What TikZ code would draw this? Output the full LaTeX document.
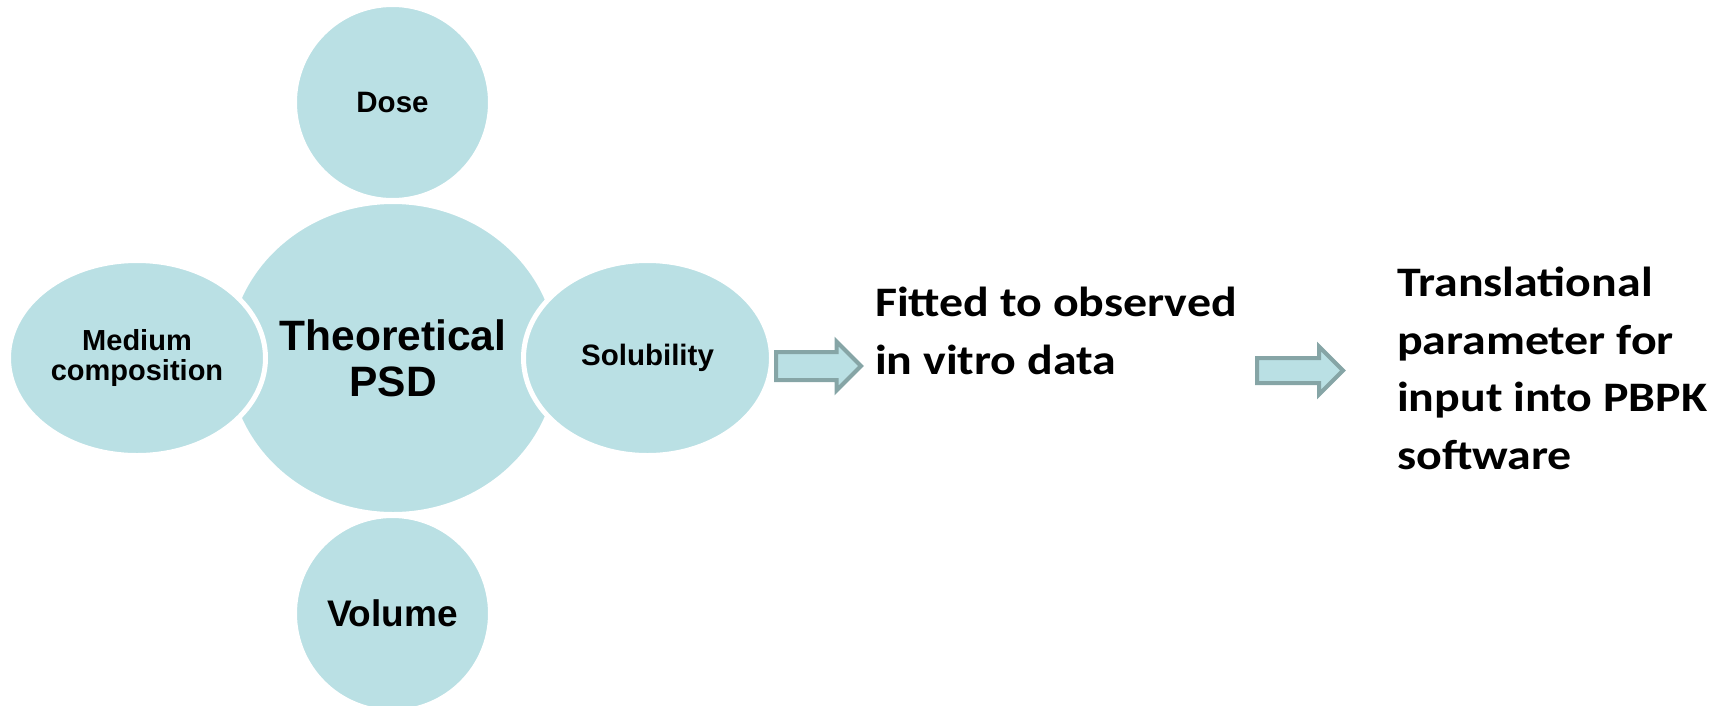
\documentclass[tikz,border=0pt]{standalone}
\usepackage{fontspec}
\setmainfont{Liberation Sans}
\newfontfamily\calfont[FakeStretch=1.14]{Carlito}
\usetikzlibrary{shapes.geometric,shapes.arrows}
\definecolor{bubblefill}{RGB}{186,224,228}
\definecolor{arrowline}{RGB}{134,165,166}
\begin{document}
\begin{tikzpicture}[x=1pt,y=-1pt,
  bubble/.style={ellipse, fill=bubblefill, draw=white, line width=5pt, inner sep=0pt, align=center},
  blockarrow/.style={single arrow, draw=arrowline, fill=bubblefill, line width=4pt,
    inner xsep=0pt, single arrow tip angle=90, anchor=tail},
  sidetext/.style={inner sep=0pt, align=left, anchor=north west,
    font=\calfont\bfseries\fontsize{42}{57.5}\selectfont}]
\useasboundingbox (0,0) rectangle (1721,705);
% central bubble
\node[bubble, minimum width=333pt, minimum height=313pt,
  font=\bfseries\fontsize{42.5}{46}\selectfont] (psd) at (393,358) {Theoretical\\PSD};
% satellite bubbles
\node[bubble, minimum width=196pt, minimum height=196pt,
  font=\bfseries\fontsize{29.5}{30}\selectfont] (dose) at (392.5,102.5) {Dose};
\node[bubble, minimum width=196pt, minimum height=196pt,
  font=\bfseries\fontsize{37}{40}\selectfont] (vol) at (392.5,613.5) {Volume};
\node[bubble, minimum width=257pt, minimum height=195pt,
  font=\bfseries\fontsize{29}{30}\selectfont] (med) at (137,358) {Medium\\composition};
\node[bubble, minimum width=248pt, minimum height=195pt,
  font=\bfseries\fontsize{29.5}{30}\selectfont] (sol) at (647.5,358) {Solubility};
% block arrows
\node[blockarrow, inner ysep=12pt, minimum height=85pt, single arrow head extend=10.5pt] (arr1) at (774,366) {};
\node[blockarrow, inner ysep=10.5pt, minimum height=86pt, single arrow head extend=11.5pt] (arr2) at (1255,370.5) {};
% texts
\node[sidetext] (fit) at (875,287) {Fitted to observed\\in vitro data};
\node[sidetext] (trans) at (1397,267) {Translational\\parameter for\\input into PBPK\\software};
\end{tikzpicture}
\end{document}
